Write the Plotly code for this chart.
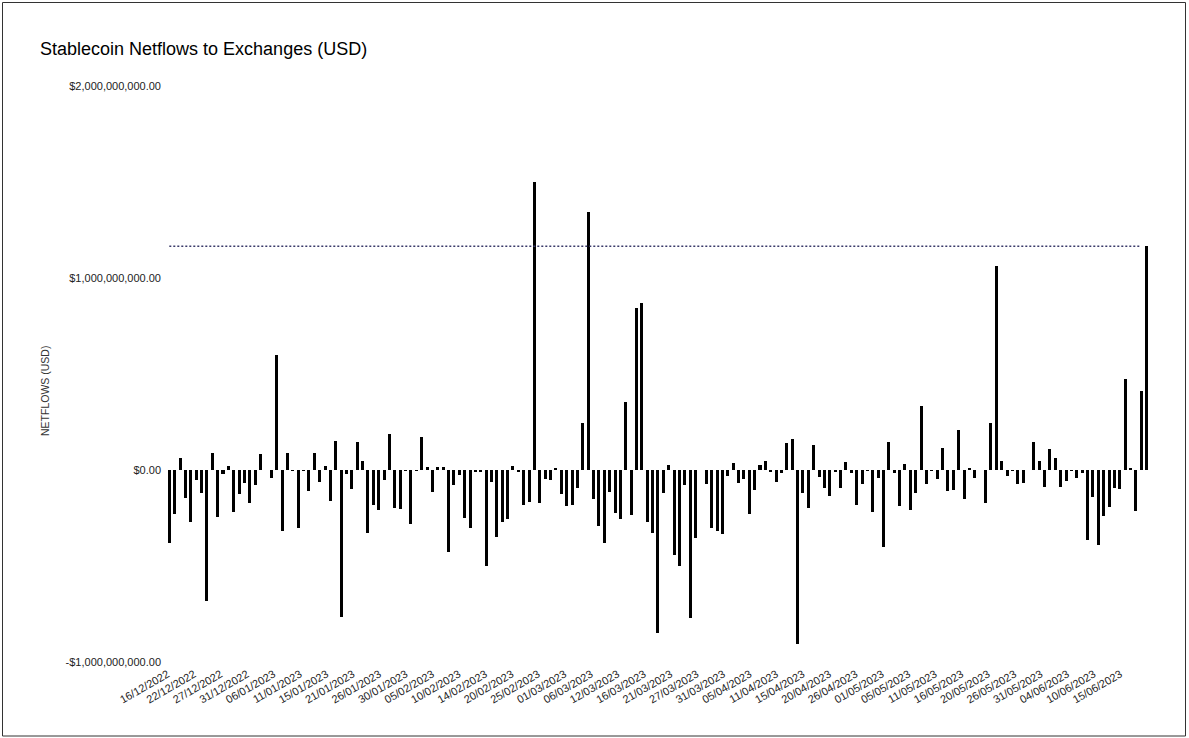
import numpy as np
import pandas as pd
import plotly.graph_objects as go

# ---- data (values in billions of USD) ----
start_date = "2022-12-16"
netflows_bn = [
    -0.38, -0.23, 0.064, -0.146, -0.27, -0.052, -0.12, -0.68, 0.087, -0.245,
    -0.02, 0.02, -0.22, -0.125, -0.066, -0.17, -0.078, 0.083, 0.0, -0.04,
    0.60, -0.32, 0.09, -0.005, -0.30, -0.005, -0.108, 0.087, -0.06, 0.02,
    -0.16, 0.153, -0.764, -0.02, -0.10, 0.148, 0.049, -0.33, -0.18, -0.21,
    -0.05, 0.19, -0.20, -0.205, -0.005, -0.28, -0.005, 0.173, 0.014, -0.113,
    0.017, 0.017, -0.425, -0.078, -0.026, -0.25, -0.30, -0.01, -0.01, -0.50,
    -0.06, -0.35, -0.27, -0.257, 0.02, -0.01, -0.18, -0.165, 1.50, -0.17,
    -0.045, -0.05, 0.012, -0.125, -0.19, -0.182, -0.095, 0.243, 1.345, -0.153,
    -0.29, -0.38, -0.113, -0.226, -0.255, 0.356, -0.234, 0.845, 0.868, -0.272,
    -0.33, -0.85, -0.118, 0.024, -0.443, -0.498, -0.078, -0.77, -0.356, 0.0,
    -0.075, -0.30, -0.32, -0.335, -0.031, 0.035, -0.07, -0.049, -0.23, -0.104,
    0.026, 0.049, -0.01, -0.06, -0.014, 0.139, 0.16, -0.908, -0.122, -0.20,
    0.13, -0.035, -0.095, -0.134, -0.01, -0.092, 0.04, -0.014, -0.182, -0.075,
    -0.005, -0.22, -0.04, -0.403, 0.144, -0.014, -0.186, 0.031, -0.208, -0.122,
    0.335, -0.073, -0.005, -0.049, 0.113, -0.108, -0.104, 0.208, -0.151, 0.012,
    -0.043, 0.0, -0.17, 0.243, 1.06, 0.047, -0.03, -0.005, -0.073, -0.07,
    0.0, 0.146, 0.047, -0.087, 0.111, 0.061, -0.087, -0.056, -0.005, -0.04,
    -0.017, -0.365, -0.142, -0.392, -0.24, -0.194, -0.095, -0.10, 0.474, 0.007,
    -0.212, 0.413, 1.165,
]
x_tick_labels = [
    "16/12/2022", "22/12/2022", "27/12/2022", "31/12/2022", "06/01/2023",
    "11/01/2023", "15/01/2023", "21/01/2023", "26/01/2023", "30/01/2023",
    "05/02/2023", "10/02/2023", "14/02/2023", "20/02/2023", "25/02/2023",
    "01/03/2023", "06/03/2023", "12/03/2023", "16/03/2023", "21/03/2023",
    "27/03/2023", "31/03/2023", "05/04/2023", "11/04/2023", "15/04/2023",
    "20/04/2023", "26/04/2023", "01/05/2023", "05/05/2023", "11/05/2023",
    "16/05/2023", "20/05/2023", "26/05/2023", "31/05/2023", "04/06/2023",
    "10/06/2023", "15/06/2023",
]
y_tick_values = [-1e9, 0, 1e9, 2e9]
y_tick_labels = ["-$1,000,000,000.00", "$0.00", "$1,000,000,000.00", "$2,000,000,000.00"]

# ---- derived ----
values = np.array(netflows_bn) * 1e9
n = len(values)
dates = pd.date_range(start_date, periods=n, freq="D").strftime("%d/%m/%Y").tolist()
xi = np.arange(n)
latest = values[-1]

FONT = "Liberation Sans, Arial, sans-serif"
W, H = 1189, 738
ML, MR, MT, MB = 165, 37, 86, 76
PW, PH = W - ML - MR, H - MT - MB

fig = go.Figure()
fig.add_trace(go.Bar(
    x=xi, y=values, width=0.56, marker=dict(color="#000000", line=dict(width=0)),
    customdata=dates, hovertemplate="%{customdata}<br>%{y:$,.2f}<extra></extra>",
    showlegend=False,
))
fig.add_trace(go.Scatter(
    x=[xi[0], xi[-2]], y=[latest, latest], mode="lines",
    line=dict(color="#3a3a6a", width=1.5, dash="2px,2px"),
    hoverinfo="skip", showlegend=False,
))

tickvals = np.linspace(-0.3, 177.1, len(x_tick_labels))

fig.update_layout(
    width=W, height=H,
    margin=dict(l=ML, r=MR, t=MT, b=MB, autoexpand=False),
    paper_bgcolor="white", plot_bgcolor="white",
    font=dict(family=FONT, color="#222222"),
    title=dict(text="Stablecoin Netflows to Exchanges (USD)",
               x=40 / W, xref="container", xanchor="left",
               y=1 - 49 / H, yref="container", yanchor="middle",
               font=dict(size=18, color="#000000", family=FONT)),
    bargap=0,
    xaxis=dict(range=[-0.8, 183.0], tickmode="array", tickvals=tickvals,
               ticktext=x_tick_labels, tickangle=-30, showgrid=False,
               zeroline=False, showline=False, ticks="", ticklabelstandoff=3,
               tickfont=dict(size=11, color="#222222", family=FONT),
               automargin=False, fixedrange=True),
    yaxis=dict(range=[-1e9, 2e9], tickmode="array", tickvals=y_tick_values,
               ticktext=y_tick_labels, showgrid=False, zeroline=False,
               showline=False, ticks="", ticklabelstandoff=3,
               tickfont=dict(size=11, color="#222222", family=FONT),
               automargin=False, fixedrange=True),
    annotations=[dict(text="NETFLOWS (USD)", xref="paper", yref="paper",
                      x=(45 - ML) / PW, y=(H - MB - 391) / PH, textangle=-90,
                      showarrow=False, xanchor="center", yanchor="middle",
                      font=dict(size=10.5, color="#333333", family=FONT))],
    shapes=[dict(type="rect", xref="paper", yref="paper",
                 x0=(2.5 - ML) / PW, x1=(1185.5 - ML) / PW,
                 y0=(H - MB - 736) / PH, y1=(H - MB - 2.5) / PH,
                 line=dict(color="#333333", width=1), fillcolor="rgba(0,0,0,0)")],
)

fig.write_html(
    "out.html",
    config={"displayModeBar": False},
    post_script="document.body.style.margin='0';document.body.style.overflow='hidden';",
)
